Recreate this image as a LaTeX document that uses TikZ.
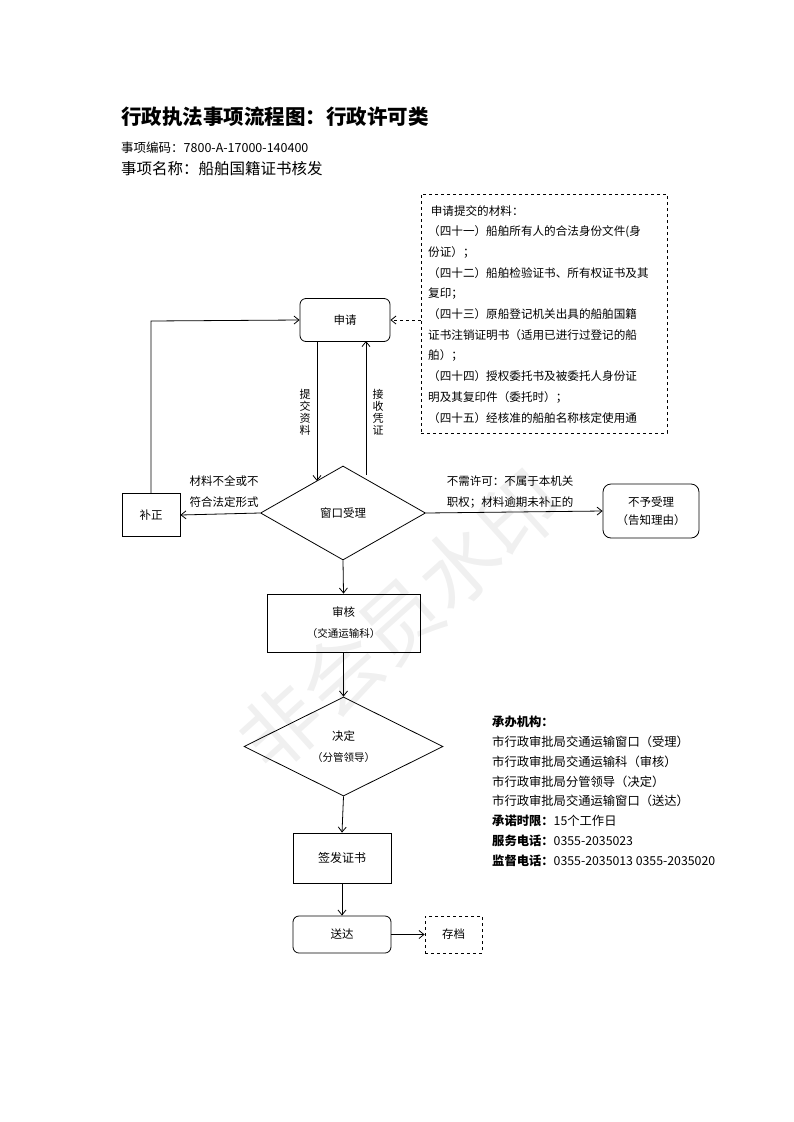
\documentclass[tikz,border=0pt]{standalone}
\usepackage{fontspec}
\setmainfont{Noto Sans CJK SC}
\usetikzlibrary{shapes.geometric,arrows.meta}
\begin{document}
\begin{tikzpicture}[x=1pt,y=-1pt,
  box/.style={draw,line width=0.8pt,inner sep=0pt,align=center,font=\fontsize{11.5}{14}\selectfont},
  rbox/.style={box,rounded corners=6pt},
  dia/.style={draw,line width=0.8pt,diamond,aspect=1.75,inner sep=0pt,align=center,font=\fontsize{11.5}{14}\selectfont},
  arr/.style={-{Straight Barb[length=5pt,width=8pt]},line width=0.8pt},
  lbl/.style={font=\fontsize{11.8}{20}\selectfont,align=left,inner sep=0pt}]
\useasboundingbox (0,0) rectangle (793,1122);
\node[rotate=42,text=black!6,font=\fontsize{80}{90}\selectfont] (wm) at (400,620) {非会员水印};
\node[anchor=west,inner sep=0pt,font=\fontsize{20.5}{22}\selectfont\bfseries] (title) at (121,117) {行政执法事项流程图：行政许可类};
\node[anchor=west,inner sep=0pt,font=\fontsize{12.5}{14}\selectfont] (code) at (121,148) {事项编码：7800-A-17000-140400};
\node[anchor=west,inner sep=0pt,font=\fontsize{15.5}{18}\selectfont] (name) at (121,169) {事项名称：船舶国籍证书核发};

\node[rbox,minimum width=90pt,minimum height=43pt] (apply) at (345,320) {申请};
\node[draw,dashed,line width=0.7pt,minimum width=246pt,minimum height=239pt,inner sep=0pt] (mat) at (544,313.5) {};
\foreach \t [count=\i] in {{\ 申请提交的材料：},{（四十一）船舶所有人的合法身份文件(身},{份证）；},{（四十二）船舶检验证书、所有权证书及其},{复印；},{（四十三）原船登记机关出具的船舶国籍},{证书注销证明书（适用已进行过登记的船},{舶）；},{（四十四）授权委托书及被委托人身份证},{明及其复印件（委托时）；},{（四十五）经核准的船舶名称核定使用通}}
  \node[lbl,anchor=west,font=\fontsize{11.6}{14}\selectfont] (m\i) at (428,{190+\i*20.7}) {\t};
\node[dia,minimum width=165pt,minimum height=94pt] (win) at (343,513) {窗口受理};
\node[box,minimum width=58pt,minimum height=43pt] (fix) at (151,515) {补正};
\node[rbox,minimum width=96pt,minimum height=54pt,rounded corners=8pt,font=\fontsize{11.5}{18}\selectfont] (rej) at (651,511) {不予受理\\（告知理由）};
\node[box,minimum width=153pt,minimum height=58pt,font=\fontsize{11.5}{21}\selectfont] (rev) at (343.5,623) {审核\\{\fontsize{10.5}{12}\selectfont（交通运输科）}};
\node[dia,minimum width=199pt,minimum height=99pt,font=\fontsize{11.5}{21}\selectfont] (dec) at (343.5,746.5) {决定\\{\fontsize{10.5}{12}\selectfont（分管领导）}};
\node[box,minimum width=98pt,minimum height=50pt,font=\fontsize{12}{14}\selectfont] (sign) at (342,858) {签发证书};
\node[rbox,minimum width=98pt,minimum height=37pt] (send) at (342,934.5) {送达};
\node[box,dashed,minimum width=57pt,minimum height=37pt] (arch) at (453.5,934.5) {存档};

\coordinate (c1) at (317,341); \coordinate (c2) at (317,481);
\coordinate (c3) at (366,475); \coordinate (c4) at (366,341);
\draw[arr] (c1) -- (c2);
\draw[arr] (c3) -- (c4);
\node[font=\fontsize{11}{12}\selectfont,align=center,inner sep=0pt] (l1) at (305,412) {提\\交\\资\\料};
\node[font=\fontsize{11}{12}\selectfont,align=center,inner sep=0pt] (l2) at (378,412) {接\\收\\凭\\证};
\draw[arr,dashed] (mat.west |- apply) -- (apply.east);
\draw[arr] (fix.north) -- (151,321) -- (apply.west);
\draw[arr] (win.west) -- (fix.east);
\node[lbl,align=left,font=\fontsize{11.5}{21}\selectfont] (l3) at (224,492) {材料不全或不\\符合法定形式};
\draw[arr] (win.east) -- (rej.west);
\node[lbl,align=left,font=\fontsize{11.5}{21}\selectfont] (l4) at (510,492) {不需许可：不属于本机关\\职权；材料逾期未补正的};
\draw[arr] (win.south) -- (rev.north);
\draw[arr] (rev.south) -- (dec.north);
\draw[arr] (dec.south) -- (sign.north);
\draw[arr] (sign.south) -- (send.north);
\draw[arr] (send.east) -- (arch.west);

\node[anchor=north west,inner sep=0pt,align=left,font=\fontsize{12.3}{19.8}\selectfont] (info) at (492,716)
{\textbf{承办机构：}\\市行政审批局交通运输窗口（受理）\\市行政审批局交通运输科（审核）\\市行政审批局分管领导（决定）\\市行政审批局交通运输窗口（送达）\\\textbf{承诺时限：}15个工作日\\\textbf{服务电话：}0355-2035023\\\textbf{监督电话：}0355-2035013 0355-2035020};
\end{tikzpicture}
\end{document}
